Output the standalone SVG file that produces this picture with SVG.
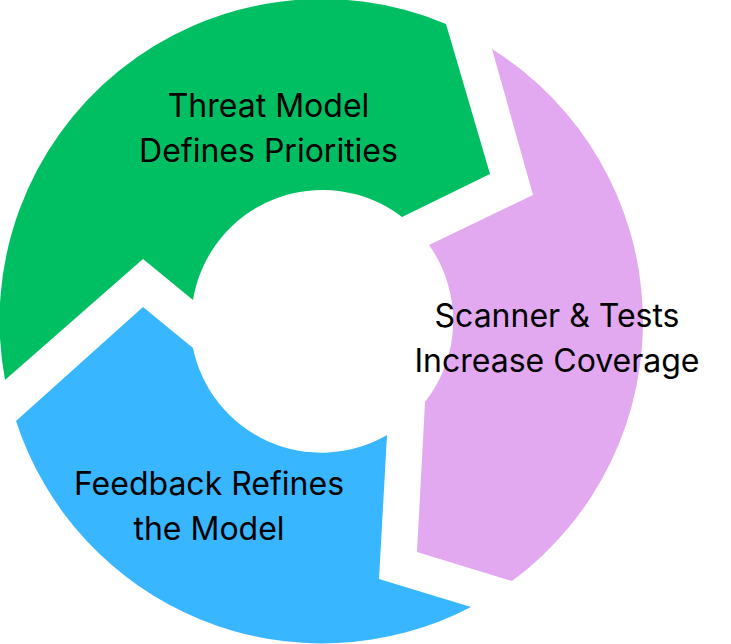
<svg xmlns="http://www.w3.org/2000/svg" width="731" height="644" viewBox="0 0 731 644">
  <style>
    .lbl { font-family: Inter, "Noto Sans", "Liberation Sans", sans-serif; font-size: 32px; font-weight: 400; fill: #000000; text-anchor: middle; }
    .green { fill: #00BF63; }
    .blue { fill: #38B6FF; }
    .purple { fill: #E2A9F1; }
  </style>
  <rect width="731" height="644" fill="#FFFFFF"/>
  <g id="threat-model">
    <path class="green" d="M 5 380 A 322 322 0 0 1 446 24 L 490 174 L 402 217 A 131 131 0 0 0 193 300 L 143 259 Z"/>
    <text class="lbl" x="268.5" y="117">Threat Model</text>
    <text class="lbl" x="268.5" y="162">Defines Priorities</text>
  </g>
  <g id="scanner-tests">
    <path class="purple" d="M 492 49 A 322 322 0 0 1 512 581 L 417 552 L 425 402 A 131 131 0 0 0 429 245 L 533 195 Z"/>
    <text class="lbl" x="557" y="327">Scanner &amp; Tests</text>
    <text class="lbl" x="557" y="372">Increase Coverage</text>
  </g>
  <g id="feedback">
    <path class="blue" d="M 471 607 A 322 322 0 0 1 16 421 L 143 307 L 193 348 A 131 131 0 0 0 387 435 L 379 579 Z"/>
    <text class="lbl" x="209" y="495">Feedback Refines</text>
    <text class="lbl" x="209" y="540">the Model</text>
  </g>
  <g id="connectors"></g>
</svg>
